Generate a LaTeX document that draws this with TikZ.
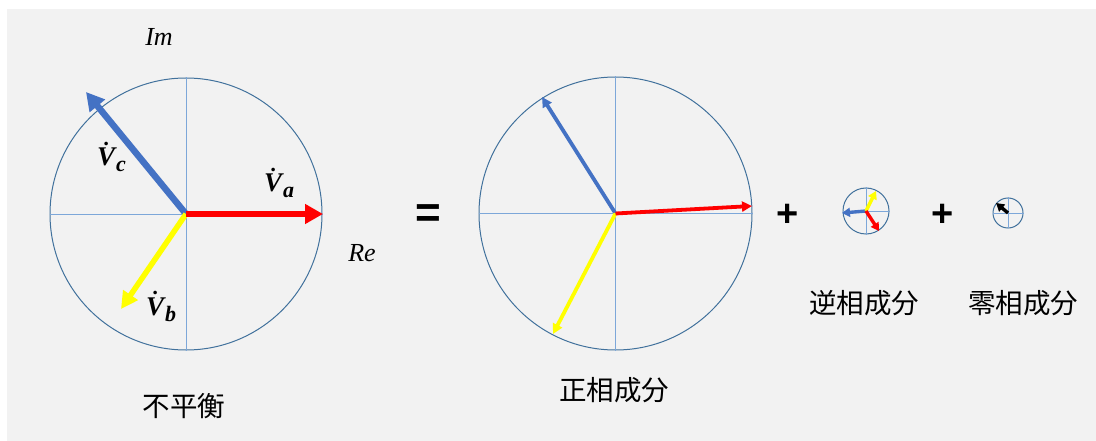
\documentclass[tikz,border=0pt]{standalone}
\usepackage{amsmath}
\usepackage{fontspec}
\setmainfont{Liberation Serif}
\newfontfamily\cjk{Noto Sans CJK JP}
\newfontfamily\opfont{Liberation Sans}
\usetikzlibrary{arrows.meta}
\definecolor{bg}{HTML}{F2F2F2}
\definecolor{ringc}{HTML}{41719C}
\definecolor{axisc}{HTML}{7DA7D9}
\definecolor{vblue}{HTML}{4472C4}
\definecolor{vred}{HTML}{FF0000}
\definecolor{vyel}{HTML}{FFFF00}
\newcommand{\vlab}[1]{{\boldmath$\dot{\hbox{\bfseries\itshape V}}$}\kern1pt\raisebox{-6pt}{\fontsize{22}{22}\selectfont\bfseries\itshape #1}}
\begin{document}
\begin{tikzpicture}[x=1pt,y=-1pt,
  ring/.style={draw=ringc, line width=1pt, circle, inner sep=0pt, minimum size=#1},
  axisline/.style={draw=axisc, line width=0.9pt},
  vecA/.style={line width=6.5pt, -{Triangle[length=18pt,width=19pt]}},
  vecB/.style={line width=3.8pt, -{Triangle[length=10pt,width=10pt]}},
  vecC/.style={line width=3.4pt, -{Triangle[length=8pt,width=9pt]}},
  vlabel/.style={font=\fontsize{27}{27}\selectfont, inner sep=0pt, anchor=base west},
  axlabel/.style={font=\fontsize{26}{26}\selectfont\itshape, inner sep=0pt},
  cjklabel/.style={font=\cjk\fontsize{27.5}{27.5}\selectfont, inner sep=0pt},
  oplabel/.style={font=\opfont\bfseries\fontsize{#1}{#1}\selectfont, inner sep=0pt}]
\useasboundingbox (0,0) rectangle (1096,441);
\fill[white] (0,0) rectangle (1096,441);
\fill[bg] (7,9) rectangle (1096,441);

% --- unbalanced ---
\node[ring=272pt] (C1) at (186,214) {};
\draw[axisline] (C1.west) -- (C1.east);
\draw[axisline] (C1.north) -- (C1.south);
\coordinate (A1) at (323,214);
\coordinate (B1) at (121,309);
\coordinate (D1) at (86,92);
\draw[vecA, vblue] (C1.center) -- (D1);
\draw[vecA, line width=5.5pt, -{Triangle[length=17pt,width=17pt]}, vyel] (C1.center) -- (B1);
\draw[vecA, vred] (C1.center) -- (A1);
\node[vlabel] (La) at (264,192) {\vlab{a}};
\node[vlabel] (Lb) at (146,315) {\vlab{b}};
\node[vlabel] (Lc) at (97,166) {\vlab{c}};
\node[axlabel] (Im) at (159,37) {Im};
\node[axlabel] (Re) at (362,253) {Re};
\node[cjklabel] (T1) at (184,406) {不平衡};

\node[oplabel=44] (eq) at (428,216) {=};

% --- positive sequence ---
\node[ring=273pt] (C2) at (615.5,213.5) {};
\draw[axisline] (C2.west) -- (C2.east);
\draw[axisline] (C2.north) -- (C2.south);
\coordinate (A2) at (752,206);
\coordinate (B2) at (553,334);
\coordinate (D2) at (542,97);
\draw[vecB, vblue] (C2.center) -- (D2);
\draw[vecB, vyel] (C2.center) -- (B2);
\draw[vecB, vred] (C2.center) -- (A2);
\node[cjklabel] (T2) at (614,390) {正相成分};

\node[oplabel=38] (p1) at (788,215) {+};

% --- negative sequence ---
\node[ring=46pt] (C3) at (866,211) {};
\draw[axisline] (C3.west) -- (C3.east);
\draw[axisline] (C3.north) -- (C3.south);
\coordinate (A3) at (879,231);
\coordinate (B3) at (876,191);
\coordinate (D3) at (842,213);
\draw[vecC, vblue] (C3.center) -- (D3);
\draw[vecC, vyel] (C3.center) -- (B3);
\draw[vecC, vred] (C3.center) -- (A3);
\node[cjklabel] (T3) at (864,303) {逆相成分};

\node[oplabel=38] (p2) at (943,215) {+};

% --- zero sequence ---
\node[ring=30pt] (C4) at (1008,213) {};
\draw[axisline] (C4.west) -- (C4.east);
\draw[axisline] (C4.north) -- (C4.south);
\coordinate (Z4) at (996,203);
\draw[vecC, black] (C4.center) -- (Z4);
\node[cjklabel] (T4) at (1023,303) {零相成分};
\end{tikzpicture}
\end{document}
